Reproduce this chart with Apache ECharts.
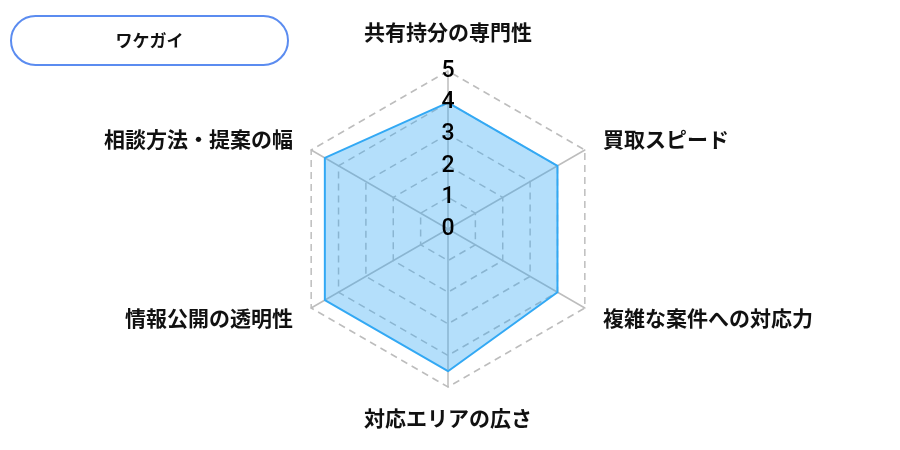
<!DOCTYPE html>
<html>
<head>
<meta charset="utf-8">
<script src="https://cdn.jsdelivr.net/npm/echarts@6/dist/echarts.min.js"></script>
<style>
html, body { margin: 0; padding: 0; background: #fff; }
#main { width: 900px; height: 450px; }
</style>
</head>
<body>
<div id="main"></div>
<script>
// 評価項目（上から反時計回り、EChartsの並び順）
var indicators = ['共有持分の専門性', '相談方法・提案の幅', '情報公開の透明性', '対応エリアの広さ', '複雑な案件への対応力', '買取スピード'];
var scores = [4, 4.5, 4.5, 4.5, 4, 4];
var maxScore = 5;
var companyName = 'ワケガイ';

var FONT = '"Noto Sans CJK JP", "Noto Sans", sans-serif';
var CENTER = [448, 229], RADIUS = 158;

var chart = echarts.init(document.getElementById('main'));

var gridIndicators = indicators.map(function (n, i) {
    var o = { name: n, max: maxScore, min: 0 };
    if (i == 0) o.nameGap = 28;
    return o;
});

// 目盛りの数字だけを塗りの上に重ねるためのもう一つのradar
var labelIndicators = indicators.map(function (n, i) {
    var o = { name: n, max: maxScore, min: 0 };
    if (i == 0) {
        o.axisLabel = {
            show: true,
            margin: 0,
            align: 'center',
            verticalAlign: 'middle',
            color: '#000',
            fontSize: 23,
            fontWeight: 500,
            fontFamily: 'Roboto, "Noto Sans", sans-serif'
        };
    }
    return o;
});

option = {
    backgroundColor: '#fff',
    graphic: [{
        type: 'group',
        left: 10,
        top: 15,
        children: [{
            type: 'rect',
            shape: { x: 0, y: 0, width: 277, height: 49, r: 24.5 },
            style: { fill: '#fff', stroke: '#5b8cf0', lineWidth: 2 }
        }, {
            type: 'text',
            x: 138.5,
            y: 24.5,
            style: {
                text: companyName,
                align: 'center',
                verticalAlign: 'middle',
                fill: '#111',
                fontSize: 17,
                fontWeight: 'bold',
                fontFamily: FONT
            }
        }]
    }],
    radar: [{
        center: CENTER,
        radius: RADIUS,
        splitNumber: 5,
        startAngle: 90,
        indicator: gridIndicators,
        nameGap: 21,
        axisName: {
            color: '#111',
            fontSize: 21,
            fontWeight: 'bold',
            fontFamily: FONT
        },
        axisLabel: { show: false },
        axisTick: { show: false },
        axisLine: {
            lineStyle: { color: '#bdbdbd', width: 1.5 }
        },
        splitLine: {
            lineStyle: { color: '#bdbdbd', width: 1.5, type: [7, 5] }
        },
        splitArea: { show: false }
    }, {
        z: 10,
        center: CENTER,
        radius: RADIUS,
        splitNumber: 5,
        startAngle: 90,
        indicator: labelIndicators,
        axisName: { show: false },
        axisLabel: { show: false },
        axisTick: { show: false },
        axisLine: { show: false },
        splitLine: { show: false },
        splitArea: { show: false }
    }],
    series: [{
        type: 'radar',
        radarIndex: 0,
        symbol: 'none',
        lineStyle: { color: '#33a9f4', width: 2 },
        areaStyle: { color: '#33a9f4', opacity: 0.37 },
        data: [{ value: scores, name: companyName }]
    }]
};
chart.setOption(option);
</script>
</body>
</html>
